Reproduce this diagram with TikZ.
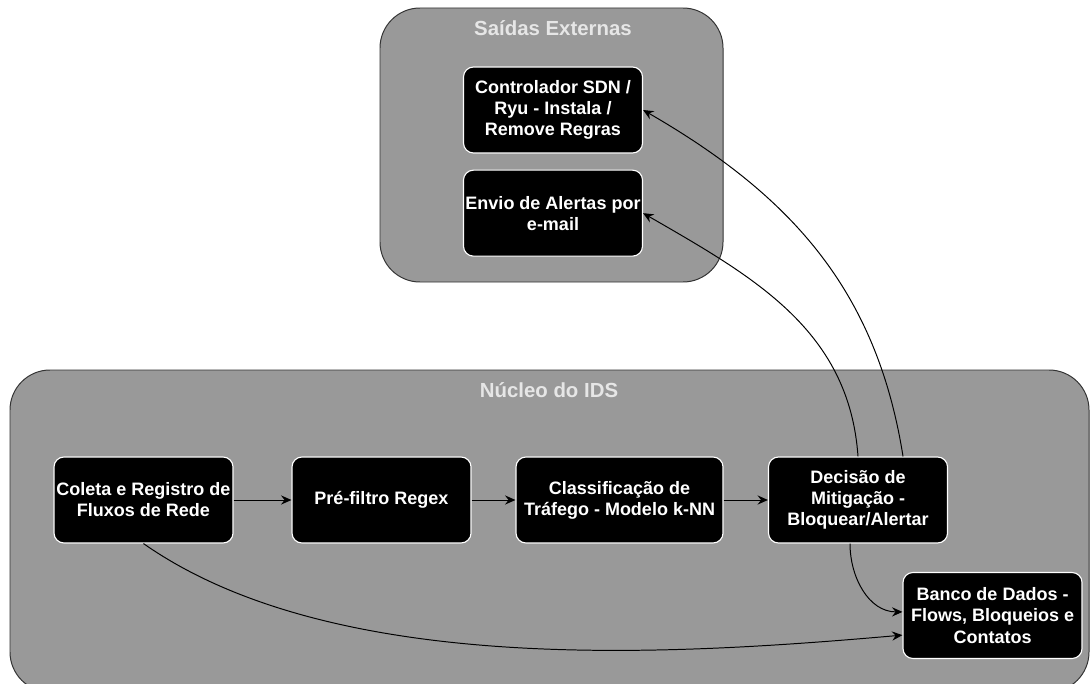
\documentclass[tikz,border=0pt]{standalone}
\usepackage{fontspec}
\setmainfont{Liberation Sans}
\usetikzlibrary{positioning,arrows.meta}

\definecolor{groupfill}{HTML}{999999}
\definecolor{groupline}{HTML}{333333}
\definecolor{titlegray}{HTML}{E6E6E6}

\begin{document}
\begin{tikzpicture}[%
    x=0.025cm, y=-0.025cm,
    >={Stealth[length=2.6mm, width=2.3mm, inset=0.9mm]},
    group/.style={draw=groupline, fill=groupfill, rounded corners=1cm, line width=0.7pt},
    grouptitle/.style={text=titlegray, font=\bfseries\fontsize{14.5}{16}\selectfont},
    stage/.style={draw=white, fill=black, text=white, rounded corners=0.25cm,
      minimum width=4.475cm, minimum height=2.15cm, align=center, inner sep=1pt,
      line width=0.8pt, font=\bfseries\fontsize{12.8}{15}\selectfont},
    flow/.style={->, line width=0.7pt}
  ]
    \useasboundingbox (0,0) rectangle (1090,683);

    % grupos
    \draw[group] (380,8) rectangle (723,282);
    \node[grouptitle] (saidas) at (553,28) {Saídas Externas};
    \draw[group] (10,370) rectangle (1089,692);
    \node[grouptitle] (nucleo) at (549,390) {Núcleo do IDS};

    % etapas
    \node[stage] (sdn) at (553,110) {Controlador SDN /\\Ryu - Instala /\\Remove Regras};
    \node[stage, below=0.4cm of sdn] (email) {Envio de Alertas por\\e-mail};
    \node[stage] (coleta) at (143.5,500) {Coleta e Registro de\\Fluxos de Rede};
    \node[stage] (regex) at (381.5,500) {Pré-filtro Regex};
    \node[stage, minimum width=5.175cm] (knn) at (619.5,500) {Classificação de\\Tráfego - Modelo k-NN};
    \node[stage] (decisao) at (858,500) {Decisão de\\Mitigação -\\Bloquear/Alertar};
    \node[stage] (banco) at (992.5,615.5) {Banco de Dados -\\Flows, Bloqueios e\\Contatos};

    \path[flow] (coleta)  edge (regex)
                (regex)   edge (knn)
                (knn)     edge (decisao)
                (decisao.north) edge [out=94, in=-30] (email.east)
                ([xshift=1.125cm]decisao.north) edge [out=99, in=-30] (sdn.east)
                ([xshift=-0.2cm]decisao.south) edge [out=-90, in=180] ([yshift=0.09cm]banco.west)
                (coleta.south) edge [out=-35, in=185, looseness=0.78] ([yshift=-0.49cm]banco.west) ;
  \end{tikzpicture}
\end{document}
